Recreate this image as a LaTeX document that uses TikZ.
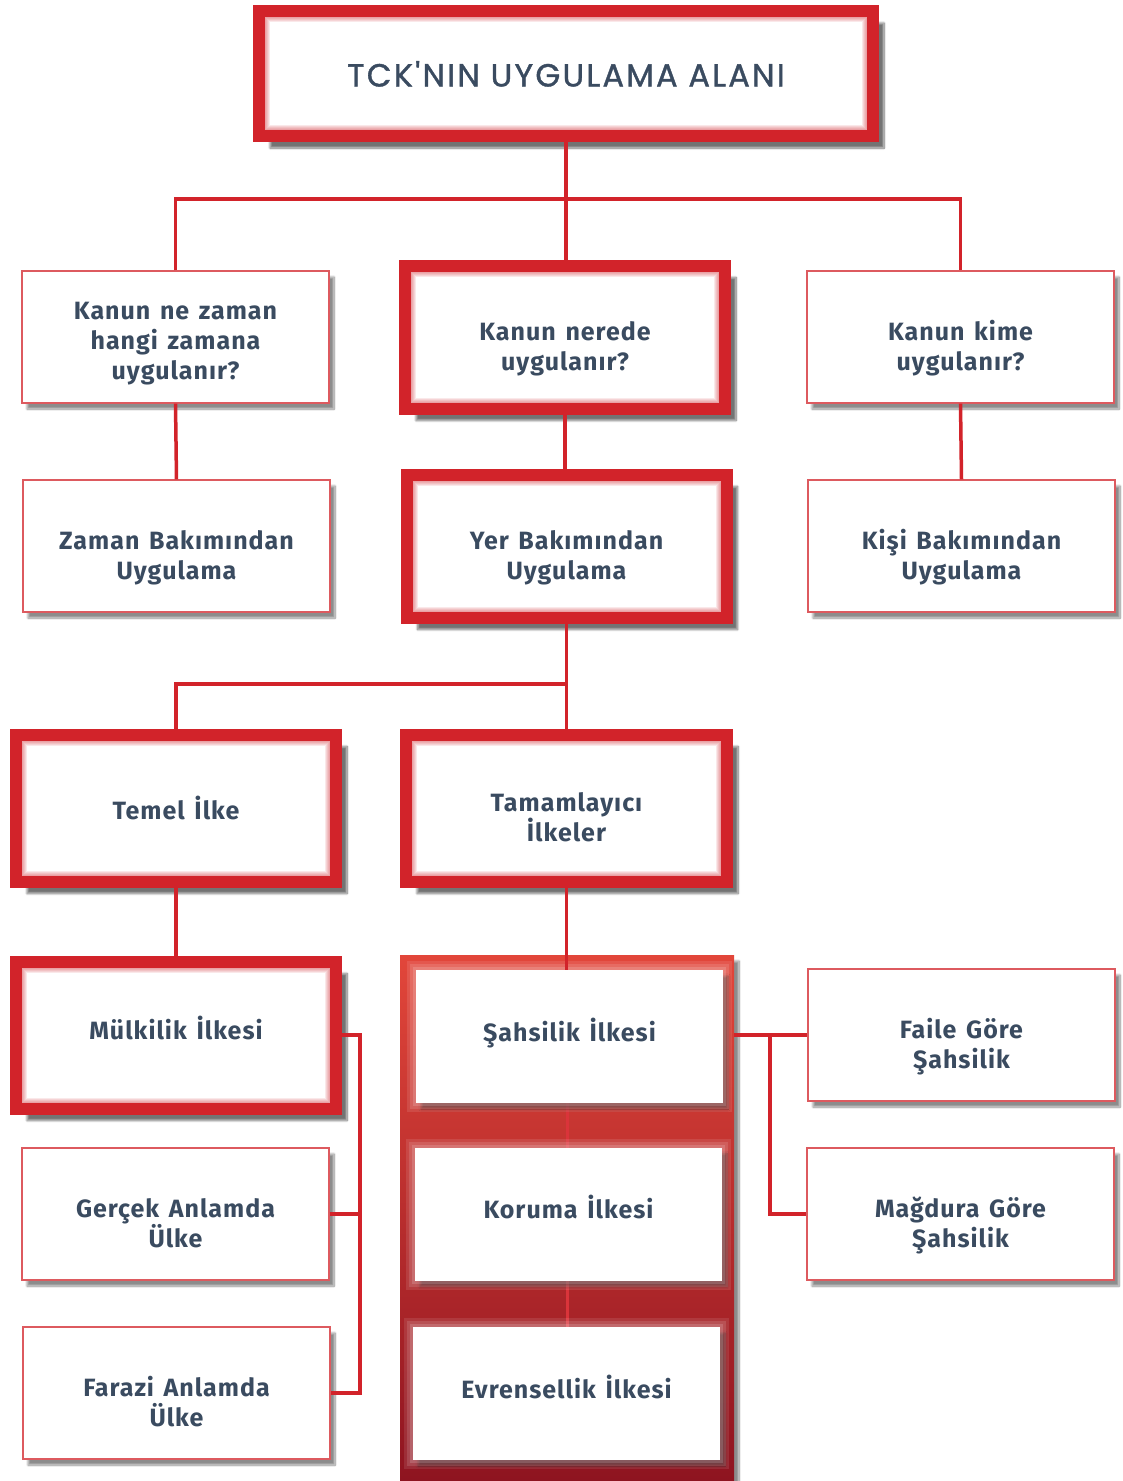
\documentclass[tikz,border=0pt]{standalone}
\usepackage{fontspec}
\setmainfont{Fira Sans}[LetterSpace=4, WordSpace=1.4]
\newfontfamily\titlefont{Poppins}[LetterSpace=7, FakeBold=1.2]
\usetikzlibrary{shadows.blur}

\definecolor{boxred}{RGB}{210,35,42}
\definecolor{linered}{RGB}{218,52,58}
\definecolor{txtblue}{RGB}{58,75,96}
\definecolor{coltop}{RGB}{226,70,58}
\definecolor{colbot}{RGB}{142,20,32}

\tikzset{every picture/.style={line width=0.75pt}}
\tikzset{
  conn/.style={draw=boxred, line width=3.5pt},
  sshadow/.style={blur shadow={shadow xshift=5pt, shadow yshift=-6pt, shadow blur steps=10, shadow opacity=45}},
  glow/.style={path picture={
    \foreach \k in {2,4,...,10}
      \draw[boxred, opacity=0.1, line width={12pt+\k pt}] (path picture bounding box.south west) rectangle (path picture bounding box.north east);}},
  qbox/.style={draw=boxred!75, line width=1.2pt, fill=white, minimum width=307pt, minimum height=132pt,
    align=center, text=txtblue, font=\bfseries\fontsize{25}{30}\selectfont, sshadow},
  hbox/.style={draw=boxred, line width=12pt, fill=white, minimum width=320pt, minimum height=143pt,
    align=center, text=txtblue, font=\bfseries\fontsize{25}{30}\selectfont, glow,
    blur shadow={shadow xshift=11pt, shadow yshift=-12pt, shadow blur steps=10, shadow opacity=55}},
  wbox/.style={fill=white, minimum width=307pt, minimum height=133pt,
    align=center, text=txtblue, font=\bfseries\fontsize{25}{30}\selectfont, sshadow,
    preaction={draw=white, opacity=0.1, line width=18pt},
    preaction={draw=white, opacity=0.12, line width=12pt},
    preaction={draw=white, opacity=0.15, line width=6pt}},
  oneline/.style={text height=15pt, text depth=6pt},
  twoline/.style={text height=66pt, text depth=0pt},
  threeline/.style={text height=84pt, text depth=0pt}
}

\begin{document}
\begin{tikzpicture}[x=1pt,y=1pt,yscale=-1]
\useasboundingbox (0,0) rectangle (1123,1481);

% title
\node (title) [hbox, minimum width=614pt, minimum height=125pt, text height=26pt, text depth=0pt,
  font=\titlefont\fontsize{32}{36}\selectfont] at (566,73.5) {TCK'NIN UYGULAMA ALANI};

% first row
\node (qzaman) [qbox, threeline] at (175.5,337) {Kanun ne zaman\\hangi zamana\\uygulanır?};
\node (qyer)   [hbox, twoline] at (565,337) {Kanun nerede\\uygulanır?};
\node (qkisi)  [qbox, twoline] at (960.5,337) {Kanun kime\\uygulanır?};

% second row
\node (zaman) [qbox, twoline] at (176.5,546) {Zaman Bakımından\\Uygulama};
\node (yer)   [hbox, twoline] at (566.5,546) {Yer Bakımından\\Uygulama};
\node (kisi)  [qbox, twoline] at (961.5,546) {Kişi Bakımından\\Uygulama};

% third row
\node (temel) [hbox, minimum height=147pt] at (176,808) {Temel İlke};
\node (tamam) [hbox, twoline, minimum width=321pt, minimum height=147pt] at (566.5,808) {Tamamlayıcı\\İlkeler};

% red column
\node (col) [sshadow, top color=coltop, bottom color=colbot, minimum width=334pt, minimum height=526pt, inner sep=0pt] at (567,1218) {};

% fourth row and below
\node (mulk) [hbox, oneline, minimum height=147pt] at (176,1035) {Mülkilik İlkesi};
\node (gercek) [qbox, twoline] at (175.5,1214) {Gerçek Anlamda\\Ülke};
\node (farazi) [qbox, twoline] at (176.5,1393) {Farazi Anlamda\\Ülke};

\draw[draw=linered, line width=3pt] (567,1103) -- (567,1148);
\draw[draw=linered, line width=3pt] (567,1280) -- (567,1327);
\node (sahsi) [wbox, oneline] at (569.5,1036.5) {Şahsilik İlkesi};
\node (koruma) [wbox, oneline] at (568.5,1214) {Koruma İlkesi};
\node (evren) [wbox, oneline] at (566.5,1393.5) {Evrensellik İlkesi};

\node (faile) [qbox, twoline] at (961.5,1035) {Faile Göre\\Şahsilik};
\node (magdur) [qbox, twoline] at (960.5,1214) {Mağdura Göre\\Şahsilik};

% connectors
\coordinate (bus1) at (566,199);
\coordinate (bus2) at (567,684);
\coordinate (lbus) at (360,0);
\coordinate (rbus) at (770,0);

\draw[conn] (title.south) -- (title.south |- qyer.north);
\draw[conn] (qzaman.north) |- (bus1) -| (qkisi.north);
\draw[conn] (qzaman.south) -- (zaman.north);
\draw[conn] (qyer.south) -- (qyer.south |- yer.north);
\draw[conn] (qkisi.south) -- (kisi.north);
\draw[conn] (yer.south) -- (yer.south |- tamam.north);
\draw[conn] (temel.north) |- (bus2);
\draw[conn] (temel.south) -- (mulk.north);
\draw[conn] (tamam.south) -- (tamam.south |- sahsi.north);
\draw[conn] (mulk.east) -| (lbus |- farazi.east) -- (farazi.east);
\draw[conn] (gercek.east) -- (lbus |- gercek.east);
\draw[conn] (col.east |- faile.west) -- (faile.west);
\draw[conn] (rbus |- faile.west) |- (magdur.west);

\end{tikzpicture}
\end{document}
